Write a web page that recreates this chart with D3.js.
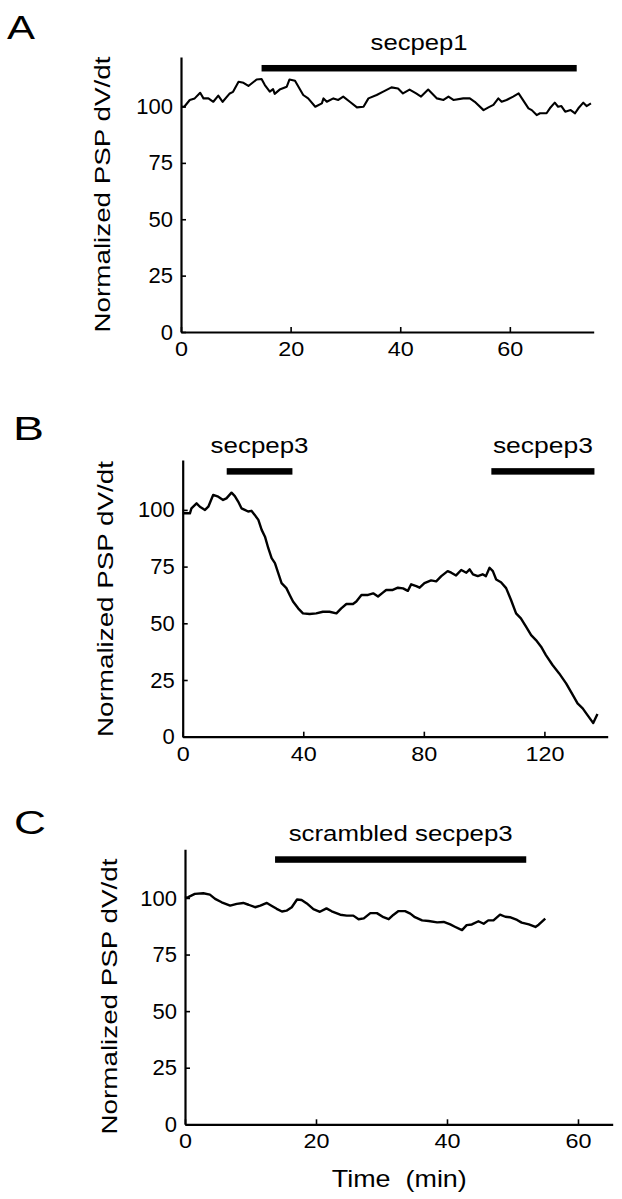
<!DOCTYPE html>
<html>
<head>
<meta charset="utf-8">
<script src="https://cdn.jsdelivr.net/npm/d3@7"></script>
<style>
  body { margin: 0; background: #fff; }
  svg { display: block; font-family: "Liberation Sans", Arial, Helvetica, sans-serif; }
  .axis path, .axis line { stroke: #000; }
  .axis text { fill: #000; font-family: "Liberation Sans", Arial, sans-serif; }
</style>
</head>
<body>
<script>
// panel A - secpep1
var timeA = [0, 0.6, 1.6, 2.5, 3.5, 4.1, 5, 5.9, 6.8, 7.6, 8.9, 9.5, 10.5, 11.4, 12.3, 13.8, 14.7, 15.3, 16.2, 16.8,
  17.1, 18, 19.3, 19.8, 20.8, 22.3, 23.2, 24.5, 25.7, 26, 26.6, 27.8, 28.7, 29.6, 30.8, 32.1, 33.3, 34.2, 35.7, 36.9,
  38.4, 39.6, 40.5, 41.7, 42.9, 43.8, 45.1, 46.7, 47.9, 48.8, 49.7, 51.5, 52.7, 53.6, 55.2, 56.1, 57, 57.9, 58.5, 59.4,
  60.6, 61.6, 62.2, 63.4, 64, 64.9, 65.5, 66.7, 67.3, 68.2, 68.8, 69.4, 70.1, 71.1, 71.9, 72.5, 73.4, 74, 74.8];
var valueA = [100, 99.9, 102.9, 103.6, 106.1, 103.6, 103.6, 102.1, 104.8, 102.1, 105.8, 106.5, 111, 110.5, 109.1, 112, 112.2, 109.5, 106.6, 107.7,
  105.6, 107.5, 108.8, 112, 111.4, 105.1, 103.6, 99.9, 101.4, 103.6, 102.1, 103.6, 102.9, 104.4, 102.1, 99.6, 99.9, 103.6, 105.1, 106.6,
  108.5, 108, 105.8, 107.5, 105.8, 104.4, 107.5, 103.6, 102.9, 104.4, 102.9, 103.6, 103.6, 102.1, 98.4, 99.6, 100.7, 103.6, 102.1, 102.9,
  104.4, 105.8, 103.6, 99.2, 98.4, 96.2, 97, 97, 99.2, 101.7, 99.9, 100.2, 97.7, 98.4, 97, 99.2, 101.7, 100.2, 101.4];

// panel B - secpep3 twice
var timeB = [0, 2.4, 2.9, 4.6, 5.7, 7.4, 8.5, 10.1, 11.8, 13.4, 14.5, 16.2, 17.3, 18.4, 19.5, 20.6, 21.7, 22.8, 23.9, 25.1,
  26.2, 27.3, 28.4, 29.5, 30.6, 31.7, 32.8, 34.4, 35.5, 36.6, 38.3, 39.9, 42.1, 44.3, 46.5, 48.7, 51, 52.6, 54.3, 56.5,
  57.6, 59.3, 61.5, 63.2, 64.8, 66.4, 67.5, 69.7, 71.4, 73.1, 74.7, 75.8, 77.5, 78.6, 80.2, 82.4, 84.1, 85.8, 87.9, 89.1,
  90.7, 92.4, 94.1, 95.2, 96.3, 97.9, 99.5, 100.6, 101.8, 102.9, 104, 105.6, 107.3, 108.9, 110.6, 112.2, 113.9, 115.6, 117.2, 118.9,
  120.5, 122.7, 124.9, 127.2, 129.4, 131, 132.7, 134.3, 136.2, 137.6];
var valueB = [98.5, 98.5, 100.7, 102.9, 101.4, 100, 101.4, 106.6, 105.8, 104.4, 105.1, 107.6, 106.1, 103.7, 100.7, 100, 99.3, 99.6, 97.8, 95.6,
  91.2, 88.2, 83.1, 78.7, 76.5, 72.1, 67.7, 65.5, 62.5, 59.6, 56.6, 54.4, 54.1, 54.4, 55.1, 55.1, 54.4, 56.6, 58.5, 58.5,
  59.6, 62.5, 62.5, 63.2, 61.8, 63.5, 64.7, 64.7, 65.7, 65.4, 64.3, 67.2, 66.4, 65.7, 67.7, 68.9, 68.5, 70.8, 73, 72.3,
  71.1, 73.5, 72.3, 73.8, 71.6, 70.8, 71.6, 70.8, 74.5, 73, 69.3, 68.1, 65.5, 60.4, 54.4, 52.2, 48.5, 44.8, 42.6, 39.7,
  36, 31.6, 27.9, 23.5, 18.4, 14.7, 12.5, 9.5, 6, 10];

// panel C - scrambled secpep3
var timeC = [0, 0.5, 1.5, 2.8, 3.8, 4.6, 5.6, 6.9, 7.9, 8.9, 9.7, 10.7, 11.5, 12.5, 13.2, 14, 14.8, 15.5, 16.3, 17.1,
  17.8, 18.6, 19.6, 20.6, 21.6, 22.4, 23.7, 24.7, 25.7, 26.5, 27.3, 28.3, 29.3, 30.3, 31.1, 31.8, 32.6, 33.6, 34.4, 35.1,
  36.2, 37.2, 38.5, 39.5, 40.5, 41.2, 42.3, 43, 43.8, 44.8, 45.6, 46.3, 47.1, 48.1, 48.9, 49.6, 50.7, 51.4, 52.5, 53.5,
  54, 55];
var valueC = [100, 100.4, 101.8, 102.1, 101.5, 99.6, 98.1, 96.6, 97.4, 97.8, 97, 95.9, 96.6, 97.8, 96.6, 95.2, 94, 94.4, 95.9, 99.3,
  99.1, 97.6, 95.1, 93.9, 95.4, 94.1, 92.6, 92.2, 92.2, 90.6, 91, 93.3, 93.3, 91.5, 90.6, 92.5, 94.2, 94.2, 93.1, 91.5,
  90.1, 89.8, 89.2, 89.4, 88.3, 87.3, 85.8, 88, 88.3, 89.7, 88.6, 90.1, 90.1, 92.6, 91.7, 91.5, 90.3, 89.1, 88.3, 87.2,
  88.2, 90.9];

// drug application bars (start, end in min)
var barsA = [[14.7, 72.2]], barsB = [[14.6, 36.4], [102.4, 136.6]], barsC = [[13.75, 52.1]];
var barLabelsA = ["secpep1"], barLabelsB = ["secpep3", "secpep3"], barLabelsC = ["scrambled secpep3"];
var barLevel = 117;

var ticksA = [0, 20, 40, 60], ticksB = [0, 40, 80, 120], ticksC = [0, 20, 40, 60];
var yTicks = [0, 25, 50, 75, 100];
var yTitle = "Normalized PSP dV/dt";

var svg = d3.select("body").append("svg")
    .attr("width", 622)
    .attr("height", 1199);

// the original lettering is a wide grotesque, so text is stretched to its measured length
var panels = [
  {letter: "A", lx: 7, ly: 39, llen: 28, t: timeA, v: valueA, bars: barsA, labels: barLabelsA, lens: [97], xt: ticksA,
   xd: [0, 75.3], xr: [181, 593.7], yd: [0, 122], yr: [332, 56.9], titleX: 110, titleY: 194.5, lw: 2.1},
  {letter: "B", lx: 13, ly: 440, llen: 31, t: timeB, v: valueB, bars: barsB, labels: barLabelsB, lens: [98, 100], xt: ticksB,
   xd: [0, 141], xr: [182.7, 607.7], yd: [0, 122], yr: [736.7, 460], titleX: 113, titleY: 599, lw: 2.4},
  {letter: "C", lx: 14, ly: 834, llen: 32, t: timeC, v: valueC, bars: barsC, labels: barLabelsC, lens: [224], xt: ticksC,
   xd: [0, 65.3], xr: [185, 612.7], yd: [0, 121.5], yr: [1124.3, 849.3], titleX: 117, titleY: 996.5, lw: 2.4}
];

panels.forEach(function(p) {
  var x = d3.scaleLinear().domain(p.xd).range(p.xr),
      y = d3.scaleLinear().domain(p.yd).range(p.yr);

  var g = svg.append("g");

  g.append("text")
      .attr("x", p.lx)
      .attr("y", p.ly)
      .attr("font-size", 34)
      .attr("textLength", p.llen)
      .attr("lengthAdjust", "spacingAndGlyphs")
      .text(p.letter);

  g.append("g")
      .attr("class", "axis")
      .attr("transform", "translate(" + p.xr[0] + ",0)")
      .call(d3.axisLeft(y).tickValues(yTicks).tickSizeInner(-5).tickSizeOuter(0).tickPadding(8))
      .call(function(a) {
        a.select(".domain").attr("stroke-width", 2.2);
        a.selectAll(".tick line").attr("stroke-width", 1.6);
        a.selectAll("text").attr("font-size", 22);
      });

  g.append("g")
      .attr("class", "axis")
      .attr("transform", "translate(0," + p.yr[0] + ")")
      .call(d3.axisBottom(x).tickValues(p.xt).tickSizeInner(-5).tickSizeOuter(0).tickPadding(9))
      .call(function(a) {
        a.select(".domain").attr("stroke-width", 2.2);
        a.selectAll(".tick line").attr("stroke-width", 1.6);
        a.selectAll("text").attr("font-size", 21)
          .attr("textLength", function(d) { return String(d).length * 13; })
          .attr("lengthAdjust", "spacingAndGlyphs");
      });

  g.append("text")
      .attr("transform", "translate(" + p.titleX + "," + p.titleY + ") rotate(-90)")
      .attr("text-anchor", "middle")
      .attr("font-size", 22)
      .attr("textLength", 276)
      .attr("lengthAdjust", "spacingAndGlyphs")
      .text(yTitle);

  var pts = p.t.map(function(d, i) { return [d, p.v[i]]; });
  var line = d3.line()
      .x(function(d) { return x(d[0]); })
      .y(function(d) { return y(d[1]); });

  g.append("path")
      .datum(pts)
      .attr("fill", "none")
      .attr("stroke", "#000")
      .attr("stroke-width", p.lw)
      .attr("stroke-linejoin", "round")
      .attr("d", line);

  g.selectAll(".bar")
      .data(p.bars)
      .enter().append("rect")
      .attr("x", function(d) { return x(d[0]); })
      .attr("y", y(barLevel) - 3.2)
      .attr("width", function(d) { return x(d[1]) - x(d[0]); })
      .attr("height", 6.5)
      .attr("fill", "#000");

  g.selectAll(".barlabel")
      .data(p.bars)
      .enter().append("text")
      .attr("x", function(d) { return (x(d[0]) + x(d[1])) / 2; })
      .attr("y", y(barLevel) - 18.5)
      .attr("text-anchor", "middle")
      .attr("font-size", 22)
      .attr("textLength", function(d, i) { return p.lens[i]; })
      .attr("lengthAdjust", "spacingAndGlyphs")
      .text(function(d, i) { return p.labels[i]; });
});

svg.append("text")
    .attr("x", 399.3)
    .attr("y", 1186.7)
    .attr("text-anchor", "middle")
    .attr("font-size", 24)
    .attr("xml:space", "preserve")
    .attr("textLength", 135)
    .attr("lengthAdjust", "spacingAndGlyphs")
    .style("white-space", "pre")
    .text("Time  (min)");
</script>
</body>
</html>
